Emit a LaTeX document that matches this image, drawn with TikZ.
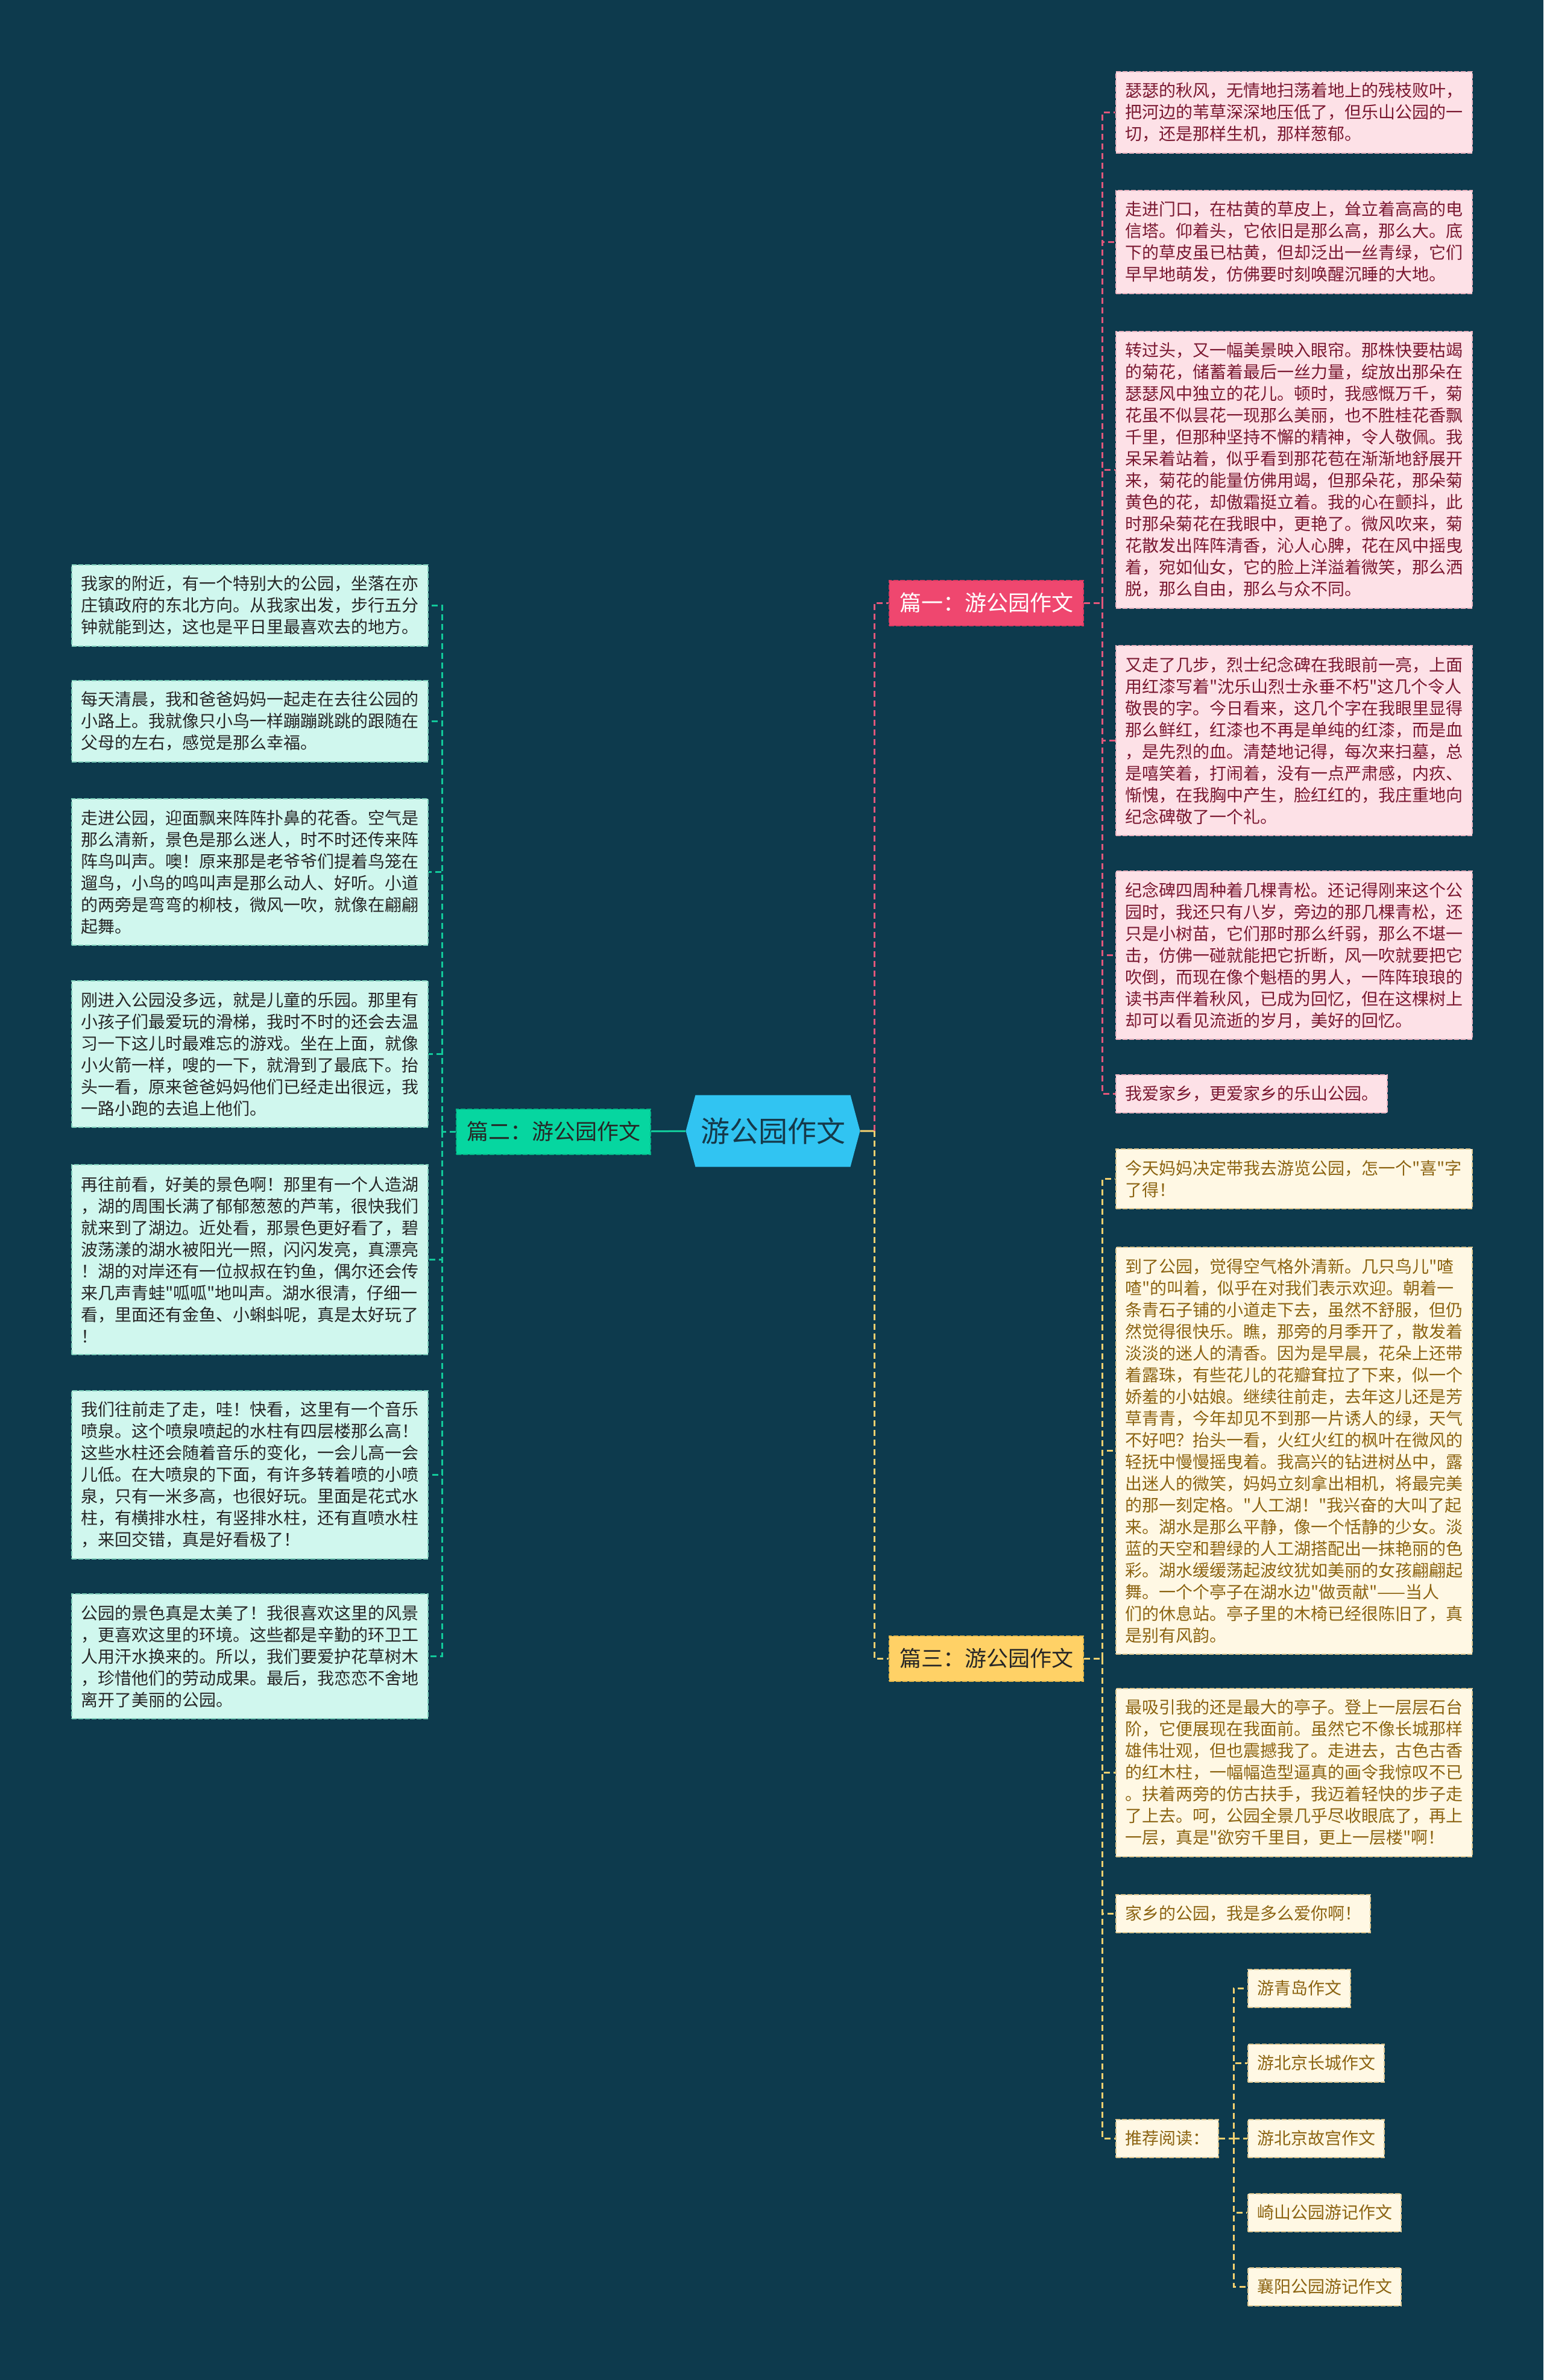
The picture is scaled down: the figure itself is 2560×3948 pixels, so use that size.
\documentclass[tikz,border=0pt]{standalone}
\usepackage{fontspec}
\newfontfamily\cjk{Noto Sans CJK SC}
\usetikzlibrary{shapes.symbols}

\definecolor{bg}{HTML}{0D3A4D}
\definecolor{rootfill}{HTML}{31C4F2}
\definecolor{roottext}{HTML}{15394A}
\definecolor{pinkmain}{HTML}{EF476F}
\definecolor{pinkdark}{HTML}{D93A61}
\definecolor{pinkfill}{HTML}{FDE1E7}
\definecolor{pinkedge}{HTML}{E9B3C0}
\definecolor{pinktext}{HTML}{7A1831}
\definecolor{pinkline}{HTML}{E2577B}
\definecolor{greenmain}{HTML}{06D6A0}
\definecolor{greendark}{HTML}{05B587}
\definecolor{greenfill}{HTML}{D0F7EE}
\definecolor{greenedge}{HTML}{7CCDB9}
\definecolor{greentext}{HTML}{262626}
\definecolor{greenline}{HTML}{12C99A}
\definecolor{yellowmain}{HTML}{FFD166}
\definecolor{yellowdark}{HTML}{E8B94A}
\definecolor{yellowfill}{HTML}{FFF8E4}
\definecolor{yellowedge}{HTML}{DCC58E}
\definecolor{yellowtext}{HTML}{8C6412}
\definecolor{yellowline}{HTML}{F4D170}

\begin{document}
\begin{tikzpicture}
[
  x=1pt, y=-1pt,
  every node/.style = {font=\cjk\fontsize{28}{36}\selectfont},
  box/.style = {anchor=north west, inner xsep=15pt, inner ysep=4pt, line width=2pt, dash pattern=on 8pt off 3pt},
  leaf/.style = {box, text width=561pt, align=left},
  pinkleaf/.style = {leaf, fill=pinkfill, draw=pinkedge, text=pinktext},
  greenleaf/.style = {leaf, fill=greenfill, draw=greenedge, text=greentext},
  yellowleaf/.style = {leaf, fill=yellowfill, draw=yellowedge, text=yellowtext},
  tag/.style = {box, minimum height=63pt},
  branch/.style = {font=\cjk\fontsize{36}{44}\selectfont, minimum width=322pt, minimum height=75pt, line width=2pt, dash pattern=on 8pt off 3pt},
  link/.style = {line width=3pt, dash pattern=on 10pt off 6pt},
]

\fill[bg] (0,0) rectangle (2560,3948);

% centre and the three branches
\node (root) at (1282,1876) [signal, signal to=west and east, signal pointer angle=150, fill=rootfill, text=roottext, minimum width=289pt, minimum height=119pt, font=\cjk\fontsize{48}{56}\selectfont] {游公园作文};
\node (pian1) at (1636,1000) [branch, fill=pinkmain, draw=pinkdark, text=white] {篇一：游公园作文};
\node (pian2) at (918,1877) [branch, fill=greenmain, draw=greendark, text=greentext] {篇二：游公园作文};
\node (pian3) at (1636,2751) [branch, fill=yellowmain, draw=yellowdark, text=greentext] {篇三：游公园作文};

% 篇一
\node (p1) at (1850,118) [pinkleaf, minimum height=135pt] {瑟瑟的秋风，无情地扫荡着地上的残枝败叶，\\把河边的苇草深深地压低了，但乐山公园的一\\切，还是那样生机，那样葱郁。};
\node (p2) at (1850,315) [pinkleaf, minimum height=171pt] {走进门口，在枯黄的草皮上，耸立着高高的电\\信塔。仰着头，它依旧是那么高，那么大。底\\下的草皮虽已枯黄，但却泛出一丝青绿，它们\\早早地萌发，仿佛要时刻唤醒沉睡的大地。};
\node (p3) at (1850,549) [pinkleaf, minimum height=459pt] {转过头，又一幅美景映入眼帘。那株快要枯竭\\的菊花，储蓄着最后一丝力量，绽放出那朵在\\瑟瑟风中独立的花儿。顿时，我感慨万千，菊\\花虽不似昙花一现那么美丽，也不胜桂花香飘\\千里，但那种坚持不懈的精神，令人敬佩。我\\呆呆着站着，似乎看到那花苞在渐渐地舒展开\\来，菊花的能量仿佛用竭，但那朵花，那朵菊\\黄色的花，却傲霜挺立着。我的心在颤抖，此\\时那朵菊花在我眼中，更艳了。微风吹来，菊\\花散发出阵阵清香，沁人心脾，花在风中摇曳\\着，宛如仙女，它的脸上洋溢着微笑，那么洒\\脱，那么自由，那么与众不同。};
\node (p4) at (1850,1070) [pinkleaf, minimum height=315pt] {又走了几步，烈士纪念碑在我眼前一亮，上面\\用红漆写着"沈乐山烈士永垂不朽"这几个令人\\敬畏的字。今日看来，这几个字在我眼里显得\\那么鲜红，红漆也不再是单纯的红漆，而是血\\，是先烈的血。清楚地记得，每次来扫墓，总\\是嘻笑着，打闹着，没有一点严肃感，内疚、\\惭愧，在我胸中产生，脸红红的，我庄重地向\\纪念碑敬了一个礼。};
\node (p5) at (1850,1444) [pinkleaf, minimum height=279pt] {纪念碑四周种着几棵青松。还记得刚来这个公\\园时，我还只有八岁，旁边的那几棵青松，还\\只是小树苗，它们那时那么纤弱，那么不堪一\\击，仿佛一碰就能把它折断，风一吹就要把它\\吹倒，而现在像个魁梧的男人，一阵阵琅琅的\\读书声伴着秋风，已成为回忆，但在这棵树上\\却可以看见流逝的岁月，美好的回忆。};
\node (p6) at (1850,1782) [tag, fill=pinkfill, draw=pinkedge, text=pinktext] {我爱家乡，更爱家乡的乐山公园。};

% 篇二
\node (g1) at (118,936) [greenleaf, minimum height=135pt] {我家的附近，有一个特别大的公园，坐落在亦\\庄镇政府的东北方向。从我家出发，步行五分\\钟就能到达，这也是平日里最喜欢去的地方。};
\node (g2) at (118,1128) [greenleaf, minimum height=135pt] {每天清晨，我和爸爸妈妈一起走在去往公园的\\小路上。我就像只小鸟一样蹦蹦跳跳的跟随在\\父母的左右，感觉是那么幸福。};
\node (g3) at (118,1324) [greenleaf, minimum height=243pt] {走进公园，迎面飘来阵阵扑鼻的花香。空气是\\那么清新，景色是那么迷人，时不时还传来阵\\阵鸟叫声。噢！原来那是老爷爷们提着鸟笼在\\遛鸟，小鸟的鸣叫声是那么动人、好听。小道\\的两旁是弯弯的柳枝，微风一吹，就像在翩翩\\起舞。};
\node (g4) at (118,1626) [greenleaf, minimum height=243pt] {刚进入公园没多远，就是儿童的乐园。那里有\\小孩子们最爱玩的滑梯，我时不时的还会去温\\习一下这儿时最难忘的游戏。坐在上面，就像\\小火箭一样，嗖的一下，就滑到了最底下。抬\\头一看，原来爸爸妈妈他们已经走出很远，我\\一路小跑的去追上他们。};
\node (g5) at (118,1931) [greenleaf, minimum height=315pt] {再往前看，好美的景色啊！那里有一个人造湖\\，湖的周围长满了郁郁葱葱的芦苇，很快我们\\就来到了湖边。近处看，那景色更好看了，碧\\波荡漾的湖水被阳光一照，闪闪发亮，真漂亮\\！湖的对岸还有一位叔叔在钓鱼，偶尔还会传\\来几声青蛙"呱呱"地叫声。湖水很清，仔细一\\看，里面还有金鱼、小蝌蚪呢，真是太好玩了\\！};
\node (g6) at (118,2306) [greenleaf, minimum height=279pt] {我们往前走了走，哇！快看，这里有一个音乐\\喷泉。这个喷泉喷起的水柱有四层楼那么高！\\这些水柱还会随着音乐的变化，一会儿高一会\\儿低。在大喷泉的下面，有许多转着喷的小喷\\泉，只有一米多高，也很好玩。里面是花式水\\柱，有横排水柱，有竖排水柱，还有直喷水柱\\，来回交错，真是好看极了！};
\node (g7) at (118,2643) [greenleaf, minimum height=207pt] {公园的景色真是太美了！我很喜欢这里的风景\\，更喜欢这里的环境。这些都是辛勤的环卫工\\人用汗水换来的。所以，我们要爱护花草树木\\，珍惜他们的劳动成果。最后，我恋恋不舍地\\离开了美丽的公园。};

% 篇三
\node (y1) at (1850,1905) [yellowleaf, minimum height=99pt] {今天妈妈决定带我去游览公园，怎一个"喜"字\\了得！};
\node (y2) at (1850,2068) [yellowleaf, minimum height=675pt] {到了公园，觉得空气格外清新。几只鸟儿"喳\\喳"的叫着，似乎在对我们表示欢迎。朝着一\\条青石子铺的小道走下去，虽然不舒服，但仍\\然觉得很快乐。瞧，那旁的月季开了，散发着\\淡淡的迷人的清香。因为是早晨，花朵上还带\\着露珠，有些花儿的花瓣耷拉了下来，似一个\\娇羞的小姑娘。继续往前走，去年这儿还是芳\\草青青，今年却见不到那一片诱人的绿，天气\\不好吧？抬头一看，火红火红的枫叶在微风的\\轻抚中慢慢摇曳着。我高兴的钻进树丛中，露\\出迷人的微笑，妈妈立刻拿出相机，将最完美\\的那一刻定格。"人工湖！"我兴奋的大叫了起\\来。湖水是那么平静，像一个恬静的少女。淡\\蓝的天空和碧绿的人工湖搭配出一抹艳丽的色\\彩。湖水缓缓荡起波纹犹如美丽的女孩翩翩起\\舞。一个个亭子在湖水边"做贡献"——当人\\们的休息站。亭子里的木椅已经很陈旧了，真\\是别有风韵。};
\node (y3) at (1850,2800) [yellowleaf, minimum height=279pt] {最吸引我的还是最大的亭子。登上一层层石台\\阶，它便展现在我面前。虽然它不像长城那样\\雄伟壮观，但也震撼我了。走进去，古色古香\\的红木柱，一幅幅造型逼真的画令我惊叹不已\\。扶着两旁的仿古扶手，我迈着轻快的步子走\\了上去。呵，公园全景几乎尽收眼底了，再上\\一层，真是"欲穷千里目，更上一层楼"啊！};
\node (y4) at (1850,3142) [tag, fill=yellowfill, draw=yellowedge, text=yellowtext] {家乡的公园，我是多么爱你啊！};
\node (y5) at (1850,3547) [tag, anchor=west, fill=yellowfill, draw=yellowedge, text=yellowtext] {推荐阅读：};

\node (r1) at (2069,3298) [tag, anchor=west, fill=yellowfill, draw=yellowedge, text=yellowtext] {游青岛作文};
\node (r2) at (2069,3422) [tag, anchor=west, fill=yellowfill, draw=yellowedge, text=yellowtext] {游北京长城作文};
\node (r3) at (2069,3547) [tag, anchor=west, fill=yellowfill, draw=yellowedge, text=yellowtext] {游北京故宫作文};
\node (r4) at (2069,3670) [tag, anchor=west, fill=yellowfill, draw=yellowedge, text=yellowtext] {崎山公园游记作文};
\node (r5) at (2069,3793) [tag, anchor=west, fill=yellowfill, draw=yellowedge, text=yellowtext] {襄阳公园游记作文};

% connectors
\coordinate (hub) at (1450,1876);
\coordinate (pbus) at (1828,1000);
\coordinate (gbus) at (733,1877);
\coordinate (ybus) at (1828,2751);
\coordinate (rbus) at (2046,3547);

\draw[line width=3pt, greenline] (root) -- (pian2);
\draw[line width=3pt, yellowline] (root) -- (hub);
\draw[link, pinkline] (hub) |- (pian1);
\draw[link, yellowline] (hub) |- (pian3);

\draw[link, pinkline] (pian1) -- (pbus);
\foreach \n in {p1,p2,p3,p4,p5,p6}
  \draw[link, pinkline] (pbus) |- (\n);

\draw[link, greenline] (pian2) -- (gbus);
\foreach \n in {g1,g2,g3,g4,g5,g6,g7}
  \draw[link, greenline] (gbus) |- (\n);

\draw[link, yellowline] (pian3) -- (ybus);
\foreach \n in {y1,y2,y3,y4,y5}
  \draw[link, yellowline] (ybus) |- (\n);

\draw[link, yellowline] (y5) -- (rbus);
\foreach \n in {r1,r2,r3,r4,r5}
  \draw[link, yellowline] (rbus) |- (\n);

\end{tikzpicture}
\end{document}
